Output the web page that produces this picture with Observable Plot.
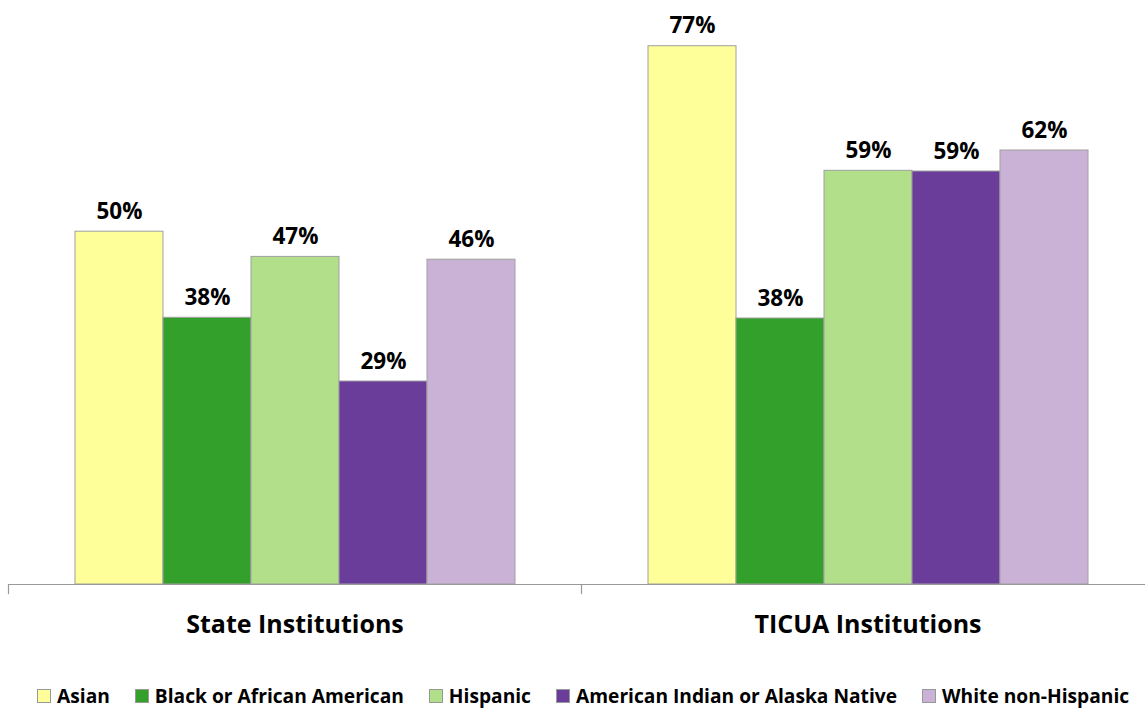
<!DOCTYPE html>
<html>
<head>
<meta charset="utf-8">
<script src="https://cdn.jsdelivr.net/npm/d3@7"></script>
<script src="https://cdn.jsdelivr.net/npm/@observablehq/plot@0.6"></script>
<style>
  html, body { margin: 0; padding: 0; background: #fff; width: 1145px; height: 710px; overflow: hidden; }
  #wrap { position: relative; width: 1145px; height: 710px; overflow: hidden; }
  #chart { position: absolute; left: 0; top: 0; width: 1160px; }
  #chart svg { max-width: none !important; }
  #legend { position: absolute; left: 37px; top: 684px; height: 24px; line-height: 24px; white-space: nowrap; font-family: "Open Sans", sans-serif; font-weight: bold; font-size: 19.2px; color: #000; display: flex; }
  .item { display: flex; align-items: center; margin-right: 25px; }
  .sw { width: 12px; height: 12px; border: 1px solid #999; margin-right: 6px; }
</style>
</head>
<body>
<div id="wrap">
  <div id="chart"></div>
  <div id="legend"></div>
</div>
<script>
const groups = ["State Institutions", "TICUA Institutions"];
const races = ["Asian", "Black or African American", "Hispanic", "American Indian or Alaska Native", "White non-Hispanic"];
const stateValues = [50.4, 38.1, 46.8, 29.0, 46.4];
const ticuaValues = [76.9, 38.0, 59.1, 59.0, 62.0];
const colors = ["#FFFF99", "#33A02C", "#B2DF8A", "#6A3D9A", "#CAB2D6"];

const data = [];
races.forEach((r, i) => {
  data.push({group: groups[0], race: r, value: stateValues[i]});
  data.push({group: groups[1], race: r, value: ticuaValues[i]});
});

const font = "'Open Sans', sans-serif";

const chart = Plot.plot({
  width: 1160,
  height: 660,
  marginLeft: 8,
  marginRight: 6,
  marginTop: 45,
  marginBottom: 76,
  style: {fontFamily: font, background: "transparent", maxWidth: "none"},
  fx: {domain: groups, padding: 0, axis: null, label: null},
  x: {domain: races, paddingInner: 0, paddingOuter: 0.75, axis: null},
  y: {domain: [0, 77], axis: null},
  color: {domain: races, range: colors},
  marks: [
    Plot.barY(data, {fx: "group", x: "race", y: "value", fill: "race", stroke: "#a0a0a0", strokeWidth: 1}),
    Plot.ruleY([0], {stroke: "#999", strokeWidth: 1.2}),
    Plot.ruleX(groups, {fx: d => d, x: null, dx: -286.5, y1: 0, y2: -1.45, stroke: "#999", strokeWidth: 1.2}),
    Plot.text(data, {fx: "group", x: "race", y: "value", text: d => Math.round(d.value) + "%", lineAnchor: "bottom", dy: -13, fontSize: 22.5, fontWeight: "bold", fill: "#000"}),
    Plot.text(groups, {fx: d => d, text: d => d, frameAnchor: "bottom", lineAnchor: "middle", dy: 40, fontSize: 25, fontWeight: "bold", fill: "#000"})
  ]
});
document.getElementById("chart").appendChild(chart);

const legend = document.getElementById("legend");
races.forEach((r, i) => {
  const it = document.createElement("div");
  it.className = "item";
  const sw = document.createElement("span");
  sw.className = "sw";
  sw.style.background = colors[i];
  const t = document.createElement("span");
  t.textContent = r;
  it.appendChild(sw);
  it.appendChild(t);
  legend.appendChild(it);
});
</script>
</body>
</html>
